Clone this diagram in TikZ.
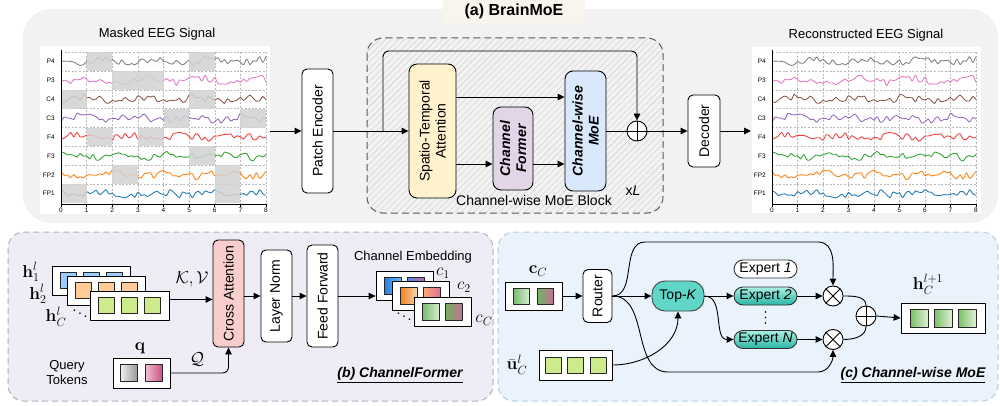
\documentclass[tikz,border=0pt]{standalone}
\usepackage{amsmath,amssymb}
\usepackage[no-math]{fontspec}
\setmainfont{Liberation Sans}
\newfontfamily\handfont{Liberation Sans}
\usetikzlibrary{arrows.meta,patterns.meta,calc}
\definecolor{panelA}{RGB}{242,242,242}
\definecolor{titlebg}{RGB}{248,245,236}
\definecolor{panelB}{RGB}{239,236,245}
\definecolor{borderB}{RGB}{178,174,190}
\definecolor{panelC}{RGB}{234,243,252}
\definecolor{borderC}{RGB}{182,202,225}
\definecolor{yelF}{RGB}{255,242,204}
\definecolor{purF}{RGB}{225,213,231}
\definecolor{bluF}{RGB}{218,232,252}
\definecolor{pinF}{RGB}{248,206,204}
\definecolor{tealM}{RGB}{95,214,200}
\definecolor{tealT}{RGB}{170,240,228}
\definecolor{tealD}{RGB}{40,180,165}
\definecolor{sqB}{RGB}{153,204,255}
\definecolor{sqO}{RGB}{255,204,153}
\definecolor{sqG}{RGB}{205,235,139}
\definecolor{eP4}{RGB}{127,127,127}
\definecolor{eP3}{RGB}{227,119,194}
\definecolor{eC4}{RGB}{140,86,75}
\definecolor{eC3}{RGB}{148,103,189}
\definecolor{eF4}{RGB}{240,60,60}
\definecolor{eF3}{RGB}{44,160,44}
\definecolor{eFPb}{RGB}{255,127,14}
\definecolor{eFPa}{RGB}{31,119,180}
\definecolor{gBa}{RGB}{40,130,230}\definecolor{gBb}{RGB}{120,180,240}
\definecolor{gBc}{RGB}{80,140,230}\definecolor{gBd}{RGB}{190,100,160}
\definecolor{gOa}{RGB}{245,130,30}\definecolor{gOb}{RGB}{245,215,185}
\definecolor{gOc}{RGB}{245,170,110}\definecolor{gOd}{RGB}{225,110,150}
\definecolor{gGa}{RGB}{120,190,110}\definecolor{gGb}{RGB}{220,235,215}
\definecolor{gGc}{RGB}{110,180,100}\definecolor{gGd}{RGB}{200,110,150}
\definecolor{gQa}{RGB}{240,240,240}\definecolor{gQb}{RGB}{150,150,150}
\definecolor{gQc}{RGB}{240,190,210}\definecolor{gQd}{RGB}{200,80,130}
\definecolor{gHa}{RGB}{120,190,100}\definecolor{gHb}{RGB}{225,240,215}

\newcommand{\eegbase}[3]{%
  \foreach \k in {1,...,8} \draw[grd] ({#1+\k*#2},52) -- ({#1+\k*#2},204);
  \foreach \k in {0,...,7} \draw[grd] (#1,{52+18.9*\k}) -- ({#1+8*#2},{52+18.9*\k});
  \foreach \i/\c/\nm in {0/eP4/P4,1/eP3/P3,2/eC4/C4,3/eC3/C3,4/eF4/F4,5/eF3/F3,6/eFPb/FP2,7/eFPa/FP1}{
    \pgfmathsetmacro{\yc}{52+18.9*(\i+0.5)}
    \pgfmathsetseed{\i*53+11}
    \draw[\c, line width=0.85pt] plot[smooth, samples=65, domain=0:8, variable=\t]
      ({#1+\t*#2},{\yc+3.4*rand+1.8*sin(\t*170+\i*47)});
    \node[tiny, anchor=east] at (#3,\yc) {\nm};
  }}
\newcommand{\eegaxes}[2]{%
  \draw[line width=0.8pt] (#1,50) -- (#1,204) -- ({#1+8*#2},204);
  \foreach \k in {0,...,8}{
    \draw[line width=0.6pt] ({#1+\k*#2},204) -- ({#1+\k*#2},206.5);
    \node[tiny, anchor=north] at ({#1+\k*#2},206.5) {\k};}}

\begin{document}
\begin{tikzpicture}[x=1pt,y=-1pt,
  font=\fontsize{14}{16}\selectfont,
  line join=round,
  arr/.style={-{Triangle[length=7pt,width=6.5pt]}, line width=0.9pt},
  ln/.style={line width=0.9pt},
  blk/.style={draw, line width=0.9pt, rounded corners=5pt, fill=white, inner sep=0pt},
  grd/.style={gray!55, line width=0.5pt, dash pattern=on 2pt off 1.6pt},
  sqr/.style={draw=black!85, line width=0.7pt, minimum size=16pt, inner sep=0pt},
  cont/.style={draw, line width=0.8pt, fill=white, inner sep=0pt, minimum width=57pt, minimum height=29pt},
  circ/.style={circle, draw, line width=0.9pt, fill=white, minimum size=20pt, inner sep=0pt},
  pill/.style={draw=black!80, line width=0.9pt, rounded corners=9pt, minimum width=63pt, minimum height=18pt, inner sep=0pt},
  hand/.style={font=\handfont\fontsize{13}{15}\selectfont},
  tiny/.style={font=\fontsize{6.5}{7}\selectfont, inner sep=1pt},
  rlab/.style={rotate=90, align=center},
  mlab/.style={font=\fontsize{17}{19}\selectfont, inner sep=1pt},
]
\useasboundingbox (0,0) rectangle (1000,406);

% ---------------- panel (a)
\fill[panelA, rounded corners=28pt] (23,9) rectangle (998,223);
\node[fill=titlebg, minimum width=142pt, minimum height=23pt, inner sep=0pt,
      font=\bfseries\fontsize{16}{18}\selectfont] (ttl) at (514,11.5) {(a) BrainMoE};

% left plot
\fill[white] (40,46) rectangle (270,214);
\eegbase{61}{25.625}{56}
\foreach \r/\a/\b in {0/1/2,0/5/6,1/2/4,2/0/1,2/5/6,3/4/5,3/7/8,4/1/2,4/3/4,5/5/6,6/2/3,6/6/7,7/0/1,7/6/7}
  \fill[gray!35, fill opacity=0.85] ({61+\a*25.625},{52+18.9*\r}) rectangle ({61+\b*25.625},{52+18.9*(\r+1)});
\eegaxes{61}{25.625}
\node[hand] (mtitle) at (157,34) {Masked EEG Signal};

% right plot
\fill[white] (752,47) rectangle (981,213);
\eegbase{772}{25.5}{767}
\eegaxes{772}{25.5}
\node[hand] (rtitle) at (866,35) {Reconstructed EEG Signal};

% block
\fill[pattern={Lines[angle=45,distance=4.5pt,line width=0.4pt]}, pattern color=black!20, rounded corners=16pt] (367,38) rectangle (663,213);
\draw[gray!70!black, line width=1pt, dash pattern=on 7pt off 4pt, rounded corners=16pt] (367,38) rectangle (663,213);

\node[blk, minimum width=31pt, minimum height=124pt, label={[rlab]center:Patch Encoder}] (penc) at (317.5,131) {};
\node[blk, fill=yelF, rounded corners=8pt, minimum width=47pt, minimum height=134pt,
      label={[rlab]center:{Spatio-Temporal\\Attention}}] (sta) at (432.5,131) {};
\node[blk, fill=purF, rounded corners=8pt, minimum width=40pt, minimum height=83pt,
      label={[rlab, font=\bfseries\itshape\fontsize{14}{16}\selectfont]center:{Channel\\Former}}] (cf) at (513,148.5) {};
\node[blk, fill=bluF, rounded corners=8pt, minimum width=41pt, minimum height=120pt,
      label={[rlab, font=\bfseries\itshape\fontsize{14}{16}\selectfont]center:{Channel-wise\\MoE}}] (moe) at (585.5,131) {};
\node[circ] (plus) at (637,131) {};
\node[blk, minimum width=32pt, minimum height=72pt, label={[rlab]center:Decoder}] (dec) at (704,131) {};

\coordinate (lplot) at (270,131);
\coordinate (rplot) at (751,131);
\coordinate (sk) at (383,131);
\coordinate (s1) at ([yshift=34pt]sta.east);
\coordinate (s2) at ([yshift=-33pt]sta.east);
\coordinate (s3) at ([yshift=-15.5pt]cf.east);

\draw[arr] (lplot) -- (penc.west);
\draw[arr] (penc.east) -- (sta.west);
\draw[arr, rounded corners=6pt] (sk) -- ++(0,-80) -| (plus.north);
\draw[arr] (s1) -- (s1 -| moe.west);
\draw[arr] (s2) -- (s2 -| cf.west);
\draw[arr] (s3) -- (s3 -| moe.west);
\draw[ln] (moe.east) -- (plus.west);
\draw[ln] (plus.north) -- (plus.south) (plus.west) -- (plus.east);
\draw[arr] (plus.east) -- (dec.west);
\draw[arr] (dec.east) -- (rplot);

\node (blab) at (534,200) {Channel-wise MoE Block};
\node (xl) at (633,191) {x\textit{L}};

% ---------------- panel (b)
\draw[borderB, fill=panelB, line width=1pt, dash pattern=on 6pt off 4pt, rounded corners=16pt] (8,232) rectangle (493,401);

\node[cont, minimum width=78pt] (h1) at (91,280.5) {};
\foreach \d in {-23,0,23} \node[sqr, fill=sqB] at ($(h1)+(\d,0)$) {};
\node[cont, minimum width=78pt] (h2) at (106,290.5) {};
\foreach \d in {-23,0,23} \node[sqr, fill=sqO] at ($(h2)+(\d,0)$) {};
\node[cont, minimum width=79pt] (h3) at (129.5,305.5) {};
\foreach \d in {-23,0,23} \node[sqr, fill=sqG] at ($(h3)+(\d,0)$) {};
\node[mlab] (lh1) at (31,272) {$\mathbf{h}_1^l$};
\node[mlab] (lh2) at (38,294) {$\mathbf{h}_2^l$};
\node[mlab] (lh3) at (56,317) {$\mathbf{h}_C^l$};
\node[inner sep=0pt] (dd1) at (80,311) {$\ddots$};

\node[blk, fill=pinF, minimum width=31pt, minimum height=107pt, label={[rlab]center:Cross Attention}] (ca) at (228.5,293.5) {};
\node[blk, minimum width=31pt, minimum height=92pt, label={[rlab]center:Layer Norm}] (lnorm) at (276.5,296) {};
\node[blk, minimum width=31pt, minimum height=102pt, label={[rlab]center:Feed Forward}] (ff) at (322.5,296) {};

\coordinate (kv) at ([yshift=6pt]h3.east);
\draw[arr] (kv) -- (kv -| ca.west);
\node[mlab] (kvl) at (192,279) {$\mathcal{K},\mathcal{V}$};
\draw[arr] (lnorm.west -| ca.east) -- (lnorm.west);
\draw[arr] (lnorm.east) -- (lnorm.east -| ff.west);

\node[cont] (c1r) at (404.5,285.5) {};
\node[sqr, minimum size=17pt, left color=gBa, right color=gBb] at ($(c1r)+(-11.5,0)$) {};
\node[sqr, minimum size=17pt, left color=gBc, right color=gBd] at ($(c1r)+(11.5,0)$) {};
\node[cont] (c2r) at (420.5,295.5) {};
\node[sqr, minimum size=17pt, left color=gOa, right color=gOb] at ($(c2r)+(-11.5,0)$) {};
\node[sqr, minimum size=17pt, left color=gOc, right color=gOd] at ($(c2r)+(11.5,0)$) {};
\node[cont] (c3r) at (442.5,311.5) {};
\node[sqr, minimum size=17pt, left color=gGa, right color=gGb] at ($(c3r)+(-11.5,0)$) {};
\node[sqr, minimum size=17pt, left color=gGc, right color=gGd] at ($(c3r)+(11.5,0)$) {};
\node[mlab] (lc1) at (443,273) {$c_1$};
\node[mlab] (lc2) at (464,287) {$c_2$};
\node[mlab] (lc3) at (484,320) {$c_C$};
\node[inner sep=0pt] (dd2) at (404,314) {$\ddots$};
\draw[arr] (ff.east) -- (ff.east -| c1r.west);
\node[hand] (cemb) at (413,257) {Channel Embedding};

\node[cont, minimum width=57pt, minimum height=30pt] (qr) at (141.5,373) {};
\node[sqr, minimum size=17pt, left color=gQa, right color=gQb] at ($(qr)+(-12.5,0)$) {};
\node[sqr, minimum size=17pt, left color=gQc, right color=gQd] at ($(qr)+(12.5,0)$) {};
\node[mlab] (lq) at (140,348) {$\mathbf{q}$};
\node[hand, align=center] (qt) at (67,373) {Query\\Tokens};
\draw[arr, rounded corners=6pt] (qr.east) -| (ca.south);
\node[mlab] (lQ) at (197,359) {$\mathcal{Q}$};
\node[font=\bfseries\itshape\fontsize{14}{16}\selectfont] (tb) at (400,375) {\underline{(b) ChannelFormer}};

% ---------------- panel (c)
\draw[borderC, fill=panelC, line width=1pt, dash pattern=on 6pt off 4pt, rounded corners=16pt] (498,232) rectangle (998,401);

\node[cont, minimum height=28pt] (cCr) at (533.5,296) {};
\node[sqr, left color=gGa, right color=gGb] at ($(cCr)+(-12,0)$) {};
\node[sqr, left color=gGc, right color=gGd] at ($(cCr)+(12,0)$) {};
\node[mlab] (lcC) at (538,271) {$\mathbf{c}_C$};

\node[blk, minimum width=29pt, minimum height=53pt, label={[rlab]center:Router}] (router) at (597.5,296) {};
\node[draw=black!75, line width=0.9pt, fill=tealM, rounded corners=13pt, minimum width=52pt, minimum height=30pt, inner sep=0pt] (topk) at (678,296) {Top-\textit{K}};
\node[pill, fill=white] (e1) at (765.5,269) {Expert \textit{1}};
\node[pill, top color=tealT, bottom color=tealD] (e2) at (765.5,296) {Expert \textit{2}};
\node[pill, top color=tealT, bottom color=tealD] (eN) at (765.5,339.5) {Expert \textit{N}};
\foreach \yy in {312,317.5,323} \fill (765.5,\yy) circle (0.9pt);
\node[circ] (o1) at (833,296) {};
\node[circ] (o2) at (833,339.5) {};
\node[circ] (op) at (866,316) {};
\draw[ln] (o1.north east) -- (o1.south west) (o1.north west) -- (o1.south east);
\draw[ln] (o2.north east) -- (o2.south west) (o2.north west) -- (o2.south east);
\draw[ln] (op.north) -- (op.south) (op.west) -- (op.east);

\node[cont, minimum width=73pt, minimum height=30pt] (uR) at (575.5,365) {};
\foreach \d in {-22.5,0,22.5} \node[sqr, fill=sqG] at ($(uR)+(\d,0)$) {};
\node[mlab] (lu) at (517,365) {$\bar{\mathbf{u}}_C^l$};

\node[cont, minimum width=84pt, minimum height=30pt] (hR) at (943,318) {};
\foreach \d in {-24,0,24} \node[sqr, minimum size=18pt, left color=gHa, right color=gHb] at ($(hR)+(\d,0)$) {};
\node[mlab] (lh) at (928,284) {$\mathbf{h}_C^{l+1}$};

\draw[arr] (cCr.east) -- (router.west);
\draw[arr] (router.east) -- (topk.west);
\draw[arr] (router.east) to[out=0,in=180] (645,242) -- (818,242) to[out=0,in=90] (o1.north);
\draw[arr] (router.east) to[out=0,in=180] (668,372) -- (818,372) to[out=0,in=-90] (o2.south);
\draw[arr] (uR.east) to[out=0,in=-90] (topk.south);
\draw[arr] (topk.east) -- (e2.west);
\draw[arr] (topk.east) to[out=0,in=180] (eN.west);
\draw[arr] (e2.east) -- (o1.west);
\draw[arr] (eN.east) -- (o2.west);
\draw[ln] (o1.east) to[out=0,in=90] (op.north);
\draw[ln] (o2.east) to[out=0,in=-90] (op.south);
\draw[arr] (op.east) -- (hR.west);

\node[font=\bfseries\itshape\fontsize{14}{16}\selectfont] (tc) at (913,375) {\underline{(c) Channel-wise MoE}};
\end{tikzpicture}
\end{document}
